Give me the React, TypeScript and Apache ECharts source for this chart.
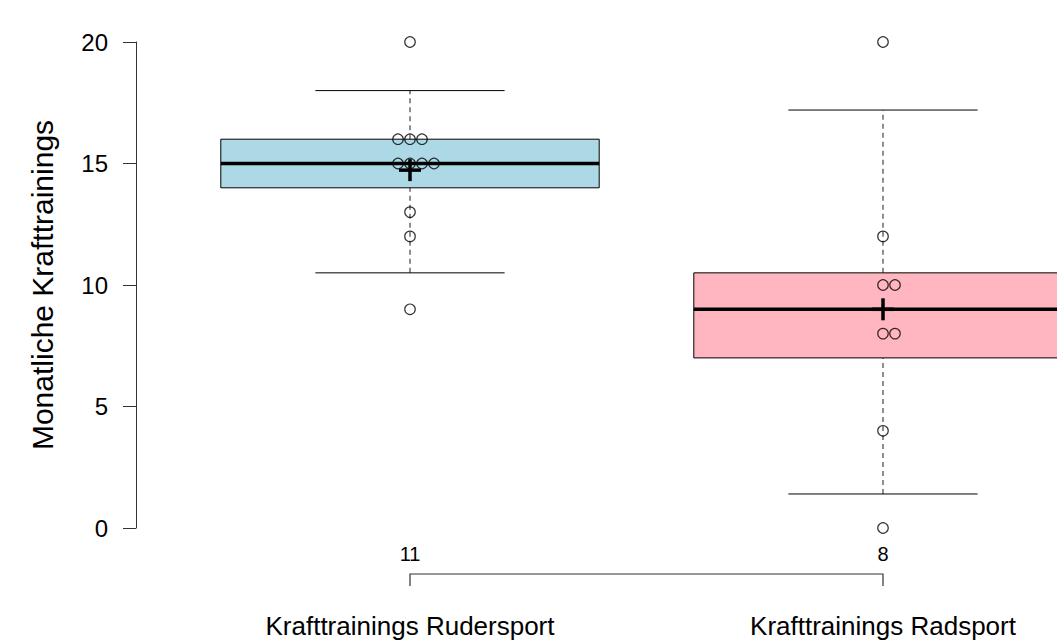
import React, { useEffect, useRef } from "react";
import * as echarts from "echarts";

const categories = ["Krafttrainings Rudersport", "Krafttrainings Radsport"];
const rowingPoints = [20, 16, 16, 16, 15, 15, 15, 15, 13, 12, 9];
const cyclingPoints = [20, 12, 10, 10, 8, 8, 4, 0];
const groups = [rowingPoints, cyclingPoints];
const q1 = [14, 7];
const medians = [15, 9];
const q3 = [16, 10.5];
const whiskerLow = [10.5, 1.4];
const whiskerHigh = [18, 17.2];
const boxColors = ["#ADD8E6", "#FFB6C1"];
const yTicks = [0, 5, 10, 15, 20];
const yTitle = "Monatliche Krafttrainings";

const FONT = "'Liberation Sans', Arial, Helvetica, sans-serif";
const SPACING = 12;

export default function App() {
  const ref = useRef<HTMLDivElement>(null);
  useEffect(() => {
    if (!ref.current) return;
    const chart = echarts.init(ref.current, null, { renderer: "svg" });

    const boxData = categories.map((_, i) => [i, whiskerLow[i], q1[i], medians[i], q3[i], whiskerHigh[i]]);
    const meanData = groups.map((g, i) => [i, g.reduce((a, b) => a + b, 0) / g.length]);
    const countData = groups.map((g, i) => [i, g.length]);

    const pointData: any[] = [];
    groups.forEach((g, i) => {
      const counts: Record<string, number> = {};
      g.forEach((v) => (counts[v] = (counts[v] || 0) + 1));
      const seen: Record<string, number> = {};
      g.forEach((v) => {
        const n = counts[v];
        const k = seen[v] || 0;
        seen[v] = k + 1;
        const off = (k - Math.floor((n - 1) / 2)) * SPACING;
        pointData.push({ value: [i, v], symbolOffset: [off, 0] });
      });
    });

    chart.setOption({
      animation: false,
      grid: { left: 173.5, width: 946, top: 42, height: 486, outerBoundsMode: "none", containLabel: false },
      xAxis: {
        type: "category",
        data: categories,
        axisLine: { show: false },
        axisTick: { show: false },
        axisLabel: { fontSize: 26, color: "#000", margin: 85, fontFamily: FONT },
        splitLine: { show: false },
      },
      yAxis: {
        type: "value",
        min: yTicks[0],
        max: yTicks[yTicks.length - 1],
        interval: 5,
        offset: 37.5,
        name: yTitle,
        nameLocation: "middle",
        nameGap: 79,
        nameRotate: 90,
        nameTextStyle: { fontSize: 30, color: "#000", fontFamily: FONT },
        axisLine: { show: true, lineStyle: { color: "#333", width: 1 } },
        axisTick: { show: true, length: 13, lineStyle: { color: "#333", width: 1 } },
        axisLabel: { fontSize: 24, color: "#000", margin: 28, fontFamily: FONT },
        splitLine: { show: false },
      },
      series: [
        {
          type: "custom",
          z: 2,
          data: boxData,
          renderItem: (params: any, api: any) => {
            const idx = api.value(0);
            const x = api.coord([idx, 0])[0];
            const band = api.size([1, 0])[0];
            const bw = band * 0.8;
            const cw = band * 0.4;
            const y = (v: number) => api.coord([idx, v])[1];
            const yLo = y(api.value(1));
            const yQ1 = y(api.value(2));
            const yMed = y(api.value(3));
            const yQ3 = y(api.value(4));
            const yHi = y(api.value(5));
            const dash = { stroke: "#444", lineWidth: 1.2, lineDash: [5, 4] };
            const solid = { stroke: "#000", lineWidth: 1 };
            return {
              type: "group",
              children: [
                { type: "line", shape: { x1: x, y1: yLo, x2: x, y2: yQ1 }, style: dash },
                { type: "line", shape: { x1: x, y1: yQ3, x2: x, y2: yHi }, style: dash },
                { type: "line", shape: { x1: x - cw / 2, y1: yLo, x2: x + cw / 2, y2: yLo }, style: solid },
                { type: "line", shape: { x1: x - cw / 2, y1: yHi, x2: x + cw / 2, y2: yHi }, style: solid },
                {
                  type: "rect",
                  shape: { x: x - bw / 2, y: yQ3, width: bw, height: yQ1 - yQ3 },
                  style: { fill: boxColors[idx], stroke: "#000", lineWidth: 1 },
                },
                { type: "line", shape: { x1: x - bw / 2, y1: yMed, x2: x + bw / 2, y2: yMed }, style: { stroke: "#000", lineWidth: 3.5 } },
              ],
            };
          },
        },
        {
          type: "scatter",
          z: 3,
          data: pointData,
          symbol: "circle",
          symbolSize: 10.5,
          itemStyle: { color: "rgba(0,0,0,0)", borderColor: "#000", borderWidth: 1.2 },
        },
        {
          type: "custom",
          z: 4,
          data: meanData,
          renderItem: (params: any, api: any) => {
            const p = api.coord([api.value(0), api.value(1)]);
            const h = 11;
            const st = { stroke: "#000", lineWidth: 3.5 };
            return {
              type: "group",
              children: [
                { type: "line", shape: { x1: p[0], y1: p[1] - h, x2: p[0], y2: p[1] + h }, style: st },
                { type: "line", shape: { x1: p[0] - h, y1: p[1], x2: p[0] + h, y2: p[1] }, style: st },
              ],
            };
          },
        },
        {
          type: "custom",
          z: 4,
          data: countData,
          renderItem: (params: any, api: any) => {
            const p = api.coord([api.value(0), 0]);
            return {
              type: "text",
              x: p[0],
              y: p[1] + 26,
              style: {
                text: String(api.value(1)),
                fontSize: 20,
                fontFamily: FONT,
                fill: "#000",
                align: "center",
                verticalAlign: "middle",
              },
            };
          },
        },
        {
          type: "custom",
          z: 4,
          data: [[0, 1]],
          renderItem: (params: any, api: any) => {
            const a = api.coord([api.value(0), 0]);
            const b = api.coord([api.value(1), 0]);
            const y = a[1] + 46;
            return {
              type: "polyline",
              shape: { points: [[a[0], y + 12], [a[0], y], [b[0], y], [b[0], y + 12]] },
              style: { stroke: "#333", lineWidth: 1.2, fill: null },
            };
          },
        },
      ],
    });
    return () => chart.dispose();
  }, []);
  return <div ref={ref} style={{ position: "absolute", left: 0, top: 0, width: 1057, height: 644 }} />;
}
